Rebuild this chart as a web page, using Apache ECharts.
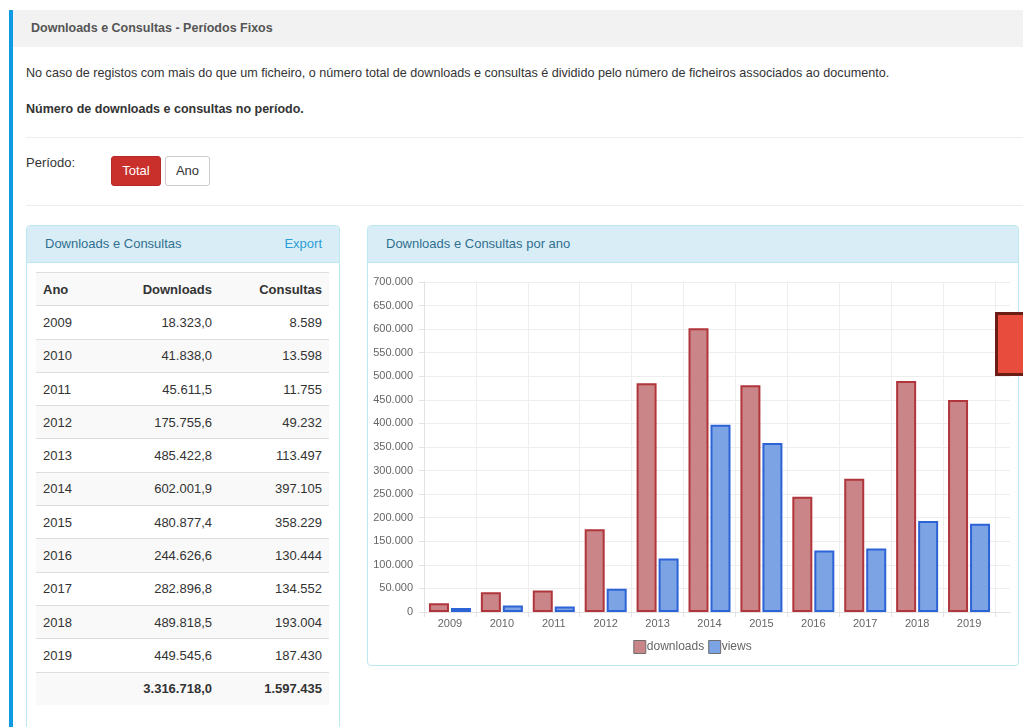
<!DOCTYPE html>
<html lang="pt">
<head>
<meta charset="utf-8">
<title>Downloads e Consultas - Períodos Fixos</title>
<script src="https://cdn.jsdelivr.net/npm/echarts@6/dist/echarts.min.js"></script>
<style>
  html, body { margin: 0; padding: 0; background: #fff; width: 1023px; height: 727px; overflow: hidden; }
  body { font-family: "Liberation Sans", Arial, Helvetica, sans-serif; color: #333; font-size: 13px; position: relative; }
  .abs { position: absolute; }
  #sidebar { left: 9px; top: 10px; width: 4px; height: 717px; background: #0f9be3; }
  #head { left: 13px; top: 10px; width: 1010px; height: 37px; background: #f2f2f2; }
  #head span { position: absolute; left: 18px; top: 11px; font-weight: bold; font-size: 12.5px; color: #555; }
  #note { left: 26px; top: 66px; font-size: 12.6px; white-space: nowrap; }
  #sub { left: 26px; top: 102px; font-size: 12.5px; font-weight: bold; white-space: nowrap; }
  .hr { left: 26px; width: 997px; height: 1px; background: #eee; }
  #plabel { left: 26px; top: 155px; font-size: 13px; }
  .btn { top: 156px; height: 30px; box-sizing: border-box; border-radius: 3px; font-size: 13px; line-height: 28px; text-align: center; }
  #btnTotal { left: 111px; width: 50px; background: #c9302c; border: 1px solid #b52a27; color: #fff; }
  #btnAno { left: 165px; width: 45px; background: #fff; border: 1px solid #ccc; color: #333; }
  .panel { border: 1px solid #bce8f1; border-radius: 4px; box-sizing: border-box; background: #fff; }
  .panel .ph { position: absolute; left: 0; top: 0; right: 0; height: 36px; background: #d9edf7; border-bottom: 1px solid #bce8f1; border-radius: 3px 3px 0 0; }
  .panel .ph .t { position: absolute; left: 18px; top: 10px; color: #31708f; font-size: 13px; }
  .panel .ph .x { position: absolute; right: 17px; top: 10px; color: #2a9fd6; font-size: 13px; }
  #leftPanel { left: 26px; top: 225px; width: 314px; height: 520px; }
  #rightPanel { left: 367px; top: 225px; width: 652px; height: 441px; }
  #tbl { left: 36px; top: 272px; width: 293px; border-collapse: collapse; font-size: 13px; color: #333; }
  #tbl td, #tbl th { height: 33.3px; padding: 0 7px; box-sizing: border-box; border-top: 1px solid #ddd; }
  #tbl th { text-align: right; font-weight: bold; }
  #tbl th:first-child, #tbl td:first-child { text-align: left; }
  #tbl td { text-align: right; }
  #tbl tr.g { background: #f9f9f9; }
  #tbl tr.tot td { font-weight: bold; }
  #chart { left: 368px; top: 263px; width: 649px; height: 401px; }
  #fab { left: 995px; top: 312px; width: 40px; height: 64px; box-sizing: border-box; background: #e74c3c; border: 3px solid #6b1d15; }
</style>
</head>
<body>
<div id="sidebar" class="abs"></div>
<div id="head" class="abs"><span>Downloads e Consultas - Períodos Fixos</span></div>
<div id="note" class="abs">No caso de registos com mais do que um ficheiro, o número total de downloads e consultas é dividido pelo número de ficheiros associados ao documento.</div>
<div id="sub" class="abs">Número de downloads e consultas no período.</div>
<div class="abs hr" style="top:137px"></div>
<div id="plabel" class="abs">Período:</div>
<div id="btnTotal" class="abs btn">Total</div>
<div id="btnAno" class="abs btn">Ano</div>
<div class="abs hr" style="top:205px"></div>

<div id="leftPanel" class="abs panel">
  <div class="ph"><span class="t">Downloads e Consultas</span><span class="x">Export</span></div>
</div>
<table id="tbl" class="abs">
  <colgroup><col style="width:80px"><col style="width:103px"><col style="width:110px"></colgroup>
  <tbody id="tbody"></tbody>
</table>

<div id="rightPanel" class="abs panel">
  <div class="ph"><span class="t">Downloads e Consultas por ano</span></div>
</div>
<div id="chart" class="abs"></div>
<div id="fab" class="abs"></div>

<script>
// Years and per-year counts
const years = ['2009', '2010', '2011', '2012', '2013', '2014', '2015', '2016', '2017', '2018', '2019'];
const downloads = [18323.0, 41838.0, 45611.5, 175755.6, 485422.8, 602001.9, 480877.4, 244626.6, 282896.8, 489818.5, 449545.6];
const views = [8589, 13598, 11755, 49232, 113497, 397105, 358229, 130444, 134552, 193004, 187430];
// Totals as reported in the summary row
const totalDownloads = '3.316.718,0';
const totalViews = '1.597.435';
const seriesNames = ['downloads', 'views'];

// pt-PT style number formatting: "." for thousands, "," for decimals
function groupThousands(intStr) {
  return intStr.replace(/\B(?=(\d{3})+(?!\d))/g, '.');
}
function fmtInt(v) { return groupThousands(String(Math.round(v))); }
function fmtDec(v) {
  const parts = v.toFixed(1).split('.');
  return groupThousands(parts[0]) + ',' + parts[1];
}

// Build the table
const tbody = document.getElementById('tbody');
let html = '<tr class="g"><th>Ano</th><th>Downloads</th><th>Consultas</th></tr>';
years.forEach((y, i) => {
  const cls = (i % 2 === 1) ? ' class="g"' : '';
  html += '<tr' + cls + '><td>' + y + '</td><td>' + fmtDec(downloads[i]) + '</td><td>' + fmtInt(views[i]) + '</td></tr>';
});
html += '<tr class="g tot"><td></td><td>' + totalDownloads + '</td><td>' + totalViews + '</td></tr>';
tbody.innerHTML = html;

// Bar chart
const chart = echarts.init(document.getElementById('chart'), null, { renderer: 'canvas' });
const font = '"Liberation Sans", Arial, Helvetica, sans-serif';
const gridColor = '#eeeeee';
chart.setOption({
  animation: false,
  textStyle: { fontFamily: font },
  legend: {
    top: 372,
    left: 'center',
    itemWidth: 12,
    itemHeight: 13,
    itemGap: 4,
    icon: 'rect',
    textStyle: { fontSize: 12, color: '#666', padding: [0, 0, 0, -4] },
    data: [
      { name: seriesNames[0], itemStyle: { color: '#c98587', borderColor: '#6e6e6e', borderWidth: 1 } },
      { name: seriesNames[1], itemStyle: { color: '#7ca3e3', borderColor: '#6e6e6e', borderWidth: 1 } }
    ]
  },
  grid: [
    { left: 56, right: 22, top: 19, bottom: 52 },
    { left: 56, right: 7, top: 19, bottom: 52 }
  ],
  xAxis: [
    {
      type: 'category',
      gridIndex: 0,
      data: years,
      axisLine: { show: false },
      axisTick: { show: true, length: 5, lineStyle: { color: '#e2e2e2' } },
      splitLine: { show: true, lineStyle: { color: gridColor } },
      axisLabel: { color: '#666', fontSize: 11, margin: 6 }
    },
    {
      type: 'value',
      gridIndex: 1,
      show: true,
      min: 0, max: 1,
      axisLine: { show: true, lineStyle: { color: '#e2e2e2' } },
      axisTick: { show: false },
      axisLabel: { show: false },
      splitLine: { show: false }
    }
  ],
  yAxis: [
    {
      type: 'value',
      gridIndex: 0,
      min: 0,
      max: 700000,
      interval: 50000,
      axisLine: { show: true, lineStyle: { color: '#e2e2e2' } },
      axisTick: { show: true, length: 5, lineStyle: { color: '#e2e2e2' } },
      splitLine: { show: false },
      axisLabel: { color: '#666', fontSize: 11, margin: 11, formatter: v => fmtInt(v) }
    },
    {
      type: 'value',
      gridIndex: 1,
      min: 0,
      max: 700000,
      interval: 50000,
      axisLine: { show: false },
      axisTick: { show: false },
      axisLabel: { show: false },
      splitLine: { show: true, lineStyle: { color: gridColor } }
    }
  ],
  series: [
    {
      name: seriesNames[0],
      type: 'bar',
      xAxisIndex: 0, yAxisIndex: 0,
      data: downloads,
      barWidth: 20,
      barGap: '10%',
      itemStyle: { color: '#c98587', borderColor: '#b0363c', borderWidth: 2 }
    },
    {
      name: seriesNames[1],
      type: 'bar',
      xAxisIndex: 0, yAxisIndex: 0,
      data: views,
      barWidth: 20,
      barGap: '10%',
      itemStyle: { color: '#7ca3e3', borderColor: '#2c63d6', borderWidth: 2 }
    }
  ]
});
</script>
</body>
</html>
